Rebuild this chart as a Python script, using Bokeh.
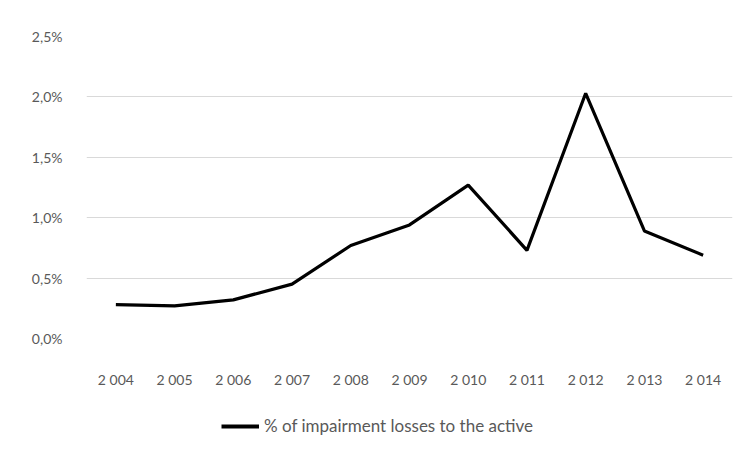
from bokeh.plotting import figure
from bokeh.layouts import column
from bokeh.models import FactorRange, Range1d, FixedTicker, Legend, LegendItem
from bokeh.embed import file_html
from bokeh.resources import INLINE

years = ["2 004", "2 005", "2 006", "2 007", "2 008", "2 009", "2 010", "2 011", "2 012", "2 013", "2 014"]
impairment_pct = [0.28, 0.27, 0.32, 0.45, 0.77, 0.94, 1.27, 0.73, 2.03, 0.89, 0.69]
y_ticks = [0.0, 0.5, 1.0, 1.5, 2.0, 2.5]
y_tick_labels = ["0,0%", "0,5%", "1,0%", "1,5%", "2,0%", "2,5%"]
series_name = "% of impairment losses to the active"

FONT = "Lato"
GREY = "#595959"
W = 737

p = figure(width=W, height=392, x_range=FactorRange(*years), y_range=Range1d(0, 2.5),
           output_backend="svg", toolbar_location=None,
           min_border_left=86, min_border_right=5, min_border_top=36, min_border_bottom=54)
p.outline_line_color = None
p.xgrid.grid_line_color = None
p.ygrid.grid_line_color = "#d9d9d9"
p.ygrid.grid_line_width = 1

r = p.line(x=years, y=impairment_pct, line_color="black", line_width=3.2)

p.yaxis.ticker = FixedTicker(ticks=y_ticks)
p.yaxis.major_label_overrides = {t: l for t, l in zip(y_ticks, y_tick_labels)}
for ax in (p.xaxis[0], p.yaxis[0]):
    ax.axis_line_color = None
    ax.major_tick_line_color = None
    ax.minor_tick_line_color = None
    ax.major_label_text_font = FONT
    ax.major_label_text_font_size = "14px"
    ax.major_label_text_color = GREY
p.yaxis.major_label_standoff = 18
p.xaxis.major_label_standoff = 26

# legend strip below the chart (series drawn out of view, only its legend key shows)
lg = figure(width=W, height=50, x_range=FactorRange(*years), y_range=Range1d(10, 11),
            output_backend="svg", toolbar_location=None,
            x_axis_type=None, y_axis_type=None,
            min_border_left=0, min_border_right=0, min_border_top=0, min_border_bottom=0)
lg.outline_line_color = None
lg.grid.grid_line_color = None
key = lg.line(x=years, y=impairment_pct, line_color="black", line_width=4)
legend = Legend(items=[LegendItem(label=series_name, renderers=[key])],
                orientation="horizontal", location=(135, 6),
                label_text_font=FONT, label_text_font_size="17px", label_text_color=GREY,
                glyph_width=38, label_standoff=5, border_line_color=None,
                background_fill_alpha=0, padding=4, margin=0)
lg.add_layout(legend, "center")

layout = column(p, lg, spacing=0)
open("out.html", "w").write(file_html(layout, INLINE))
